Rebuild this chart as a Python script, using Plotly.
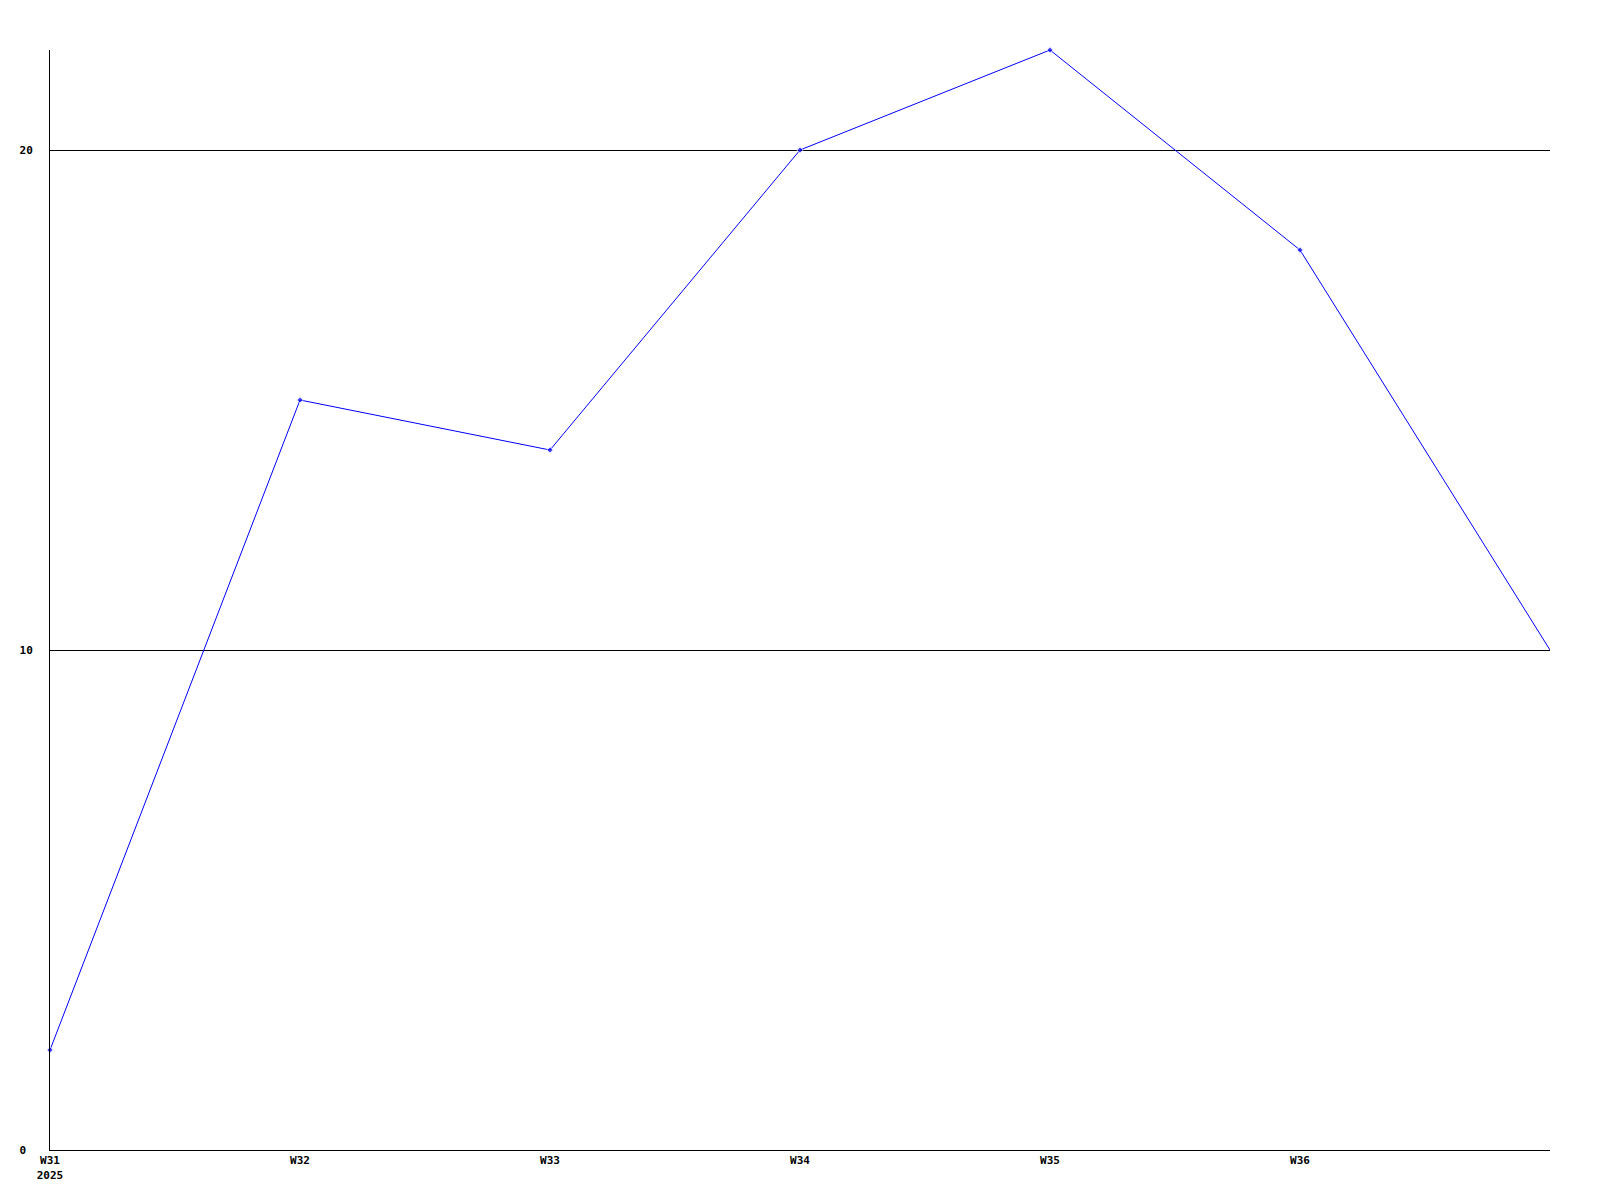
import plotly.graph_objects as go

weeks = ["W31", "W32", "W33", "W34", "W35", "W36", "W37"]
values = [2, 15, 14, 20, 22, 18, 10]
x_tick_labels = ["W31<br>2025", "W32", "W33", "W34", "W35", "W36"]
y_tick_vals = [0, 10, 20]
y_tick_labels = ["0\u00a0", "10", "20"]

xs = list(range(len(weeks)))
marker_sizes = [5] * (len(values) - 1) + [0]

fig = go.Figure(
    go.Scatter(
        x=xs,
        y=values,
        mode="lines+markers",
        line=dict(color="#0000ff", width=1),
        marker=dict(color="#0000ff", size=marker_sizes, symbol="diamond"),
        cliponaxis=False,
    )
)

font = dict(family="DejaVu Sans Mono", size=11, color="#000000", weight="bold")

fig.update_layout(
    width=1584,
    height=1184,
    margin=dict(l=42, r=42, t=42, b=42),
    paper_bgcolor="#ffffff",
    plot_bgcolor="#ffffff",
    showlegend=False,
    font=font,
)
fig.update_xaxes(
    range=[0, 6],
    tickvals=xs[:-1],
    ticktext=x_tick_labels,
    showgrid=False,
    zeroline=False,
    showline=True,
    linecolor="#000000",
    linewidth=1,
    ticks="",
    tickfont=font,
    automargin=False,
)
fig.update_yaxes(
    range=[0, 22],
    tickvals=y_tick_vals,
    ticktext=y_tick_labels,
    showgrid=True,
    gridcolor="#000000",
    gridwidth=1,
    zeroline=False,
    showline=True,
    linecolor="#000000",
    linewidth=1,
    ticks="",
    tickfont=font,
    ticklabelstandoff=14,
    automargin=False,
)

fig.write_html("out.html")
